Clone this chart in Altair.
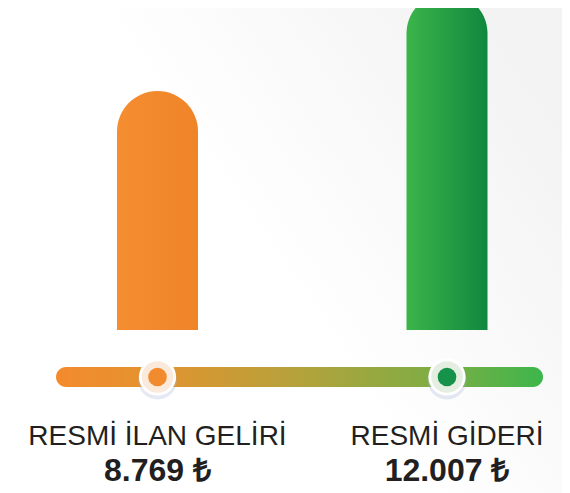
import altair as alt
import pandas as pd

# ---- data ----
categories = ["RESMİ İLAN GELİRİ", "RESMİ GİDERİ"]
values = [8769, 12007]
value_labels = ["8.769 ₺", "12.007 ₺"]

df = pd.DataFrame({"category": categories, "value": values, "label": value_labels})
one = alt.Data(values=[{"k": 0}])

W, H = 554, 485
Y_BASE = 872
Y_TOP = 11511

ORANGE = "#f28a2e"
TEXT = "#231f20"


def lg(stops, x1=0, y1=0, x2=1, y2=0):
    return alt.LinearGradient(
        gradient="linear",
        stops=[alt.GradientStop(color=c, offset=o) for o, c in stops],
        x1=x1, y1=y1, x2=x2, y2=y2,
    )


xenc = alt.X(
    "category:N", sort=categories, axis=None,
    scale=alt.Scale(type="point", domain=categories, range=[149.5, 439], padding=0),
)
yenc = alt.Y(
    "value:Q", axis=None,
    scale=alt.Scale(domain=[Y_BASE, Y_TOP], range=[322, 0], zero=False, nice=False),
)

base = alt.Chart(df)

background = alt.Chart(one).mark_rect(
    fill=lg([(0, "#ffffff"), (0.5, "#ffffff"), (1, "#f3f3f3")], x1=0, y1=0.9, x2=1, y2=0.3)
).encode(x=alt.value(0), x2=alt.value(W + 8), y=alt.value(-8), y2=alt.value(H))

bar_orange = base.transform_filter(alt.datum.category == categories[0]).mark_bar(
    size=81, cornerRadiusTopLeft=40.5, cornerRadiusTopRight=40.5,
    fill=lg([(0, "#f58d31"), (1, "#ef8428")]),
).encode(x=xenc, y=yenc, y2=alt.datum(Y_BASE))

bar_green = base.transform_filter(alt.datum.category == categories[1]).mark_bar(
    size=81, cornerRadiusTopLeft=40.5, cornerRadiusTopRight=40.5,
    fill=lg([(0, "#3bb54a"), (1, "#10873f")]),
).encode(x=xenc, y=yenc, y2=alt.datum(Y_BASE))

slider = alt.Chart(one).mark_rect(
    cornerRadius=10,
    fill=lg([(0, "#f48a2c"), (0.2, "#e3932f"), (0.5, "#b4a23b"), (0.8, "#7aae45"), (1, "#3cb64b")]),
).encode(x=alt.value(48), x2=alt.value(535), y=alt.value(359), y2=alt.value(379))

KY = 369
is_first = alt.datum.category == categories[0]

shadow = base.mark_circle(size=1520, opacity=0.3, color="#a9b7d8").encode(
    x=xenc, y=alt.value(KY + 3)
)
white = base.mark_circle(size=1385, opacity=1, color="#ffffff").encode(
    x=xenc, y=alt.value(KY)
)
pale = base.mark_circle(size=1000, opacity=1).encode(
    x=xenc, y=alt.value(KY),
    color=alt.condition(is_first, alt.value("#faeadb"), alt.value("#e4efe2")),
)
dot = base.mark_circle(size=346, opacity=1).encode(
    x=xenc, y=alt.value(KY),
    color=alt.condition(is_first, alt.value(ORANGE), alt.value("#16924a")),
)

label_text = base.mark_text(
    font="Liberation Sans", fontSize=28, color=TEXT, baseline="alphabetic", align="center"
).encode(x=xenc, y=alt.value(437), text="category:N")

value_text = base.mark_text(
    font="Liberation Sans", fontSize=32, fontWeight="bold", color=TEXT,
    baseline="alphabetic", align="center",
).encode(x=xenc, y=alt.value(473), text="label:N")

chart = alt.layer(
    background, bar_orange, bar_green, slider, shadow, white, pale, dot, label_text, value_text
).properties(
    width=W, height=H, autosize=alt.AutoSizeParams(type="none"), padding=0
).configure_view(stroke=None)

chart.save("out.html", embed_options={"renderer": "svg", "actions": False})
